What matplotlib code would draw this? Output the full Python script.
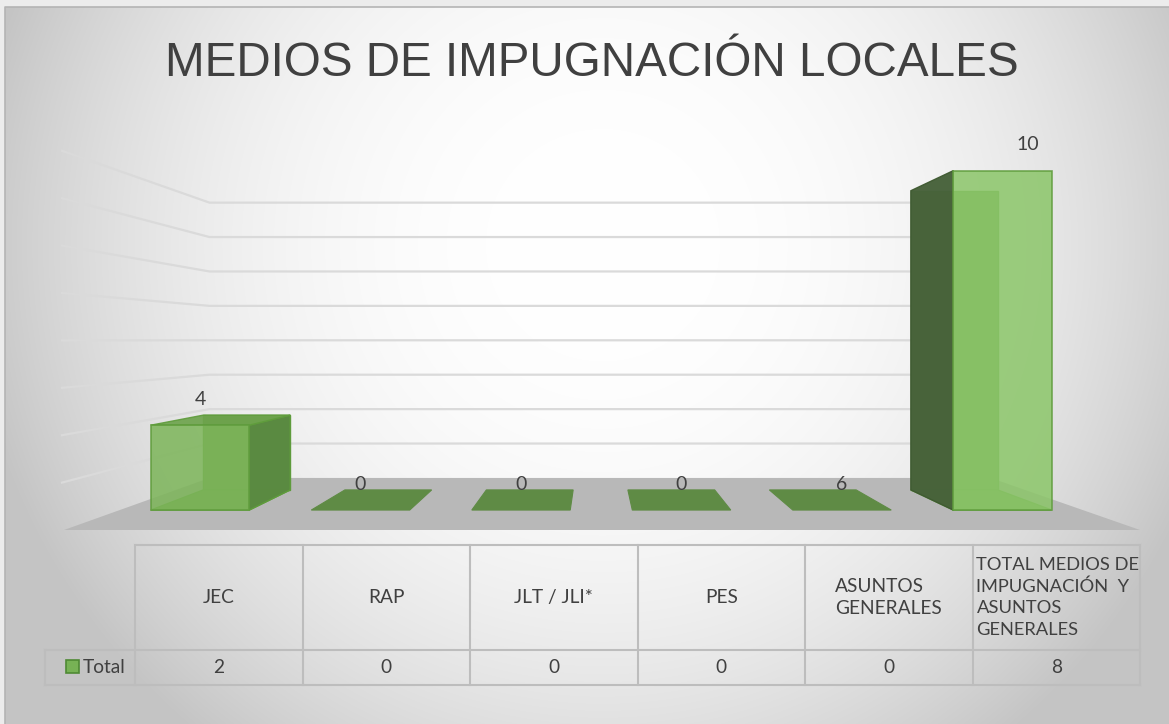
import numpy as np
import matplotlib
matplotlib.use("Agg")
import matplotlib.pyplot as plt
from matplotlib.patches import Polygon, Rectangle

# data
categories = ["JEC", "RAP", "JLT / JLI*", "PES", "ASUNTOS\nGENERALES",
              "TOTAL MEDIOS DE\nIMPUGNACIÓN  Y\nASUNTOS\nGENERALES"]
values = [2, 0, 0, 0, 0, 8]
bar_labels = ["4", "0", "0", "0", "6", "10"]
series_name = "Total"
title = "MEDIOS DE IMPUGNACIÓN LOCALES"

W, H = 1169, 724
TEXT = "#404040"

# perspective set-up (pixel space of the figure)
VX, VY = 595, 340          # vanishing point
FLOOR_Y = 530              # front edge of the floor
UNIT = 47.4                # pixels per unit on the front plane
X0, X1 = 64, 1140          # floor extent on the front plane
F_FRONT, F_BAR0, F_BAR1, F_WALL = 1.0, 0.895, 0.789, 0.726
BAR_W = 110
YMAX = 8


def proj(x, v, f):
    return VX + (x - VX) * f, VY + (FLOOR_Y - v * UNIT - VY) * f


fig = plt.figure(figsize=(W / 100, H / 100), dpi=100)
ax = fig.add_axes([0, 0, 1, 1])
ax.set_xlim(0, W)
ax.set_ylim(H, 0)
ax.axis("off")
fig.patch.set_facecolor("#ececec")

# radial background
yy, xx = np.mgrid[0:H, 0:W]
d2 = ((xx - 600) / 640.0) ** 2 + ((yy - 240) / 640.0) ** 2
shade = 1 - 0.23 * np.clip(d2, 0, 1) ** 1.2
ax.imshow(np.dstack([shade] * 3), extent=(5, W, H, 7), zorder=0, aspect="auto")
ax.plot([5, 5, W], [H, 7, 7], color="#b4b4b4", lw=1.2, zorder=1)

# floor
floor = [proj(X0, 0, F_FRONT), proj(X1, 0, F_FRONT), proj(X1, 0, F_WALL), proj(X0, 0, F_WALL)]
ax.add_patch(Polygon(floor, closed=True, fc="#b8b8b8", ec="none", zorder=2))

# gridlines on side wall and back wall
for v in range(1, YMAX + 1):
    pts = [proj(X0 - 2, v, F_FRONT), proj(X0, v, F_WALL), proj(X1, v, F_WALL)]
    ax.plot([p[0] for p in pts], [p[1] for p in pts], color="#dadada", lw=1.6, zorder=2)

# bars
n = len(categories)
step = (X1 - X0) / n
EDGE = "#5f9c3c"
for i, v in enumerate(values):
    xc = X0 + step * (i + 0.5)
    xl, xr = xc - BAR_W / 2, xc + BAR_W / 2
    top = [proj(xl, v, F_BAR0), proj(xr, v, F_BAR0), proj(xr, v, F_BAR1), proj(xl, v, F_BAR1)]
    if v == 0:
        ax.add_patch(Polygon(top, closed=True, fc="#5f8b45", ec="#5f8b45", lw=0.8, zorder=4))
    else:
        back = [proj(xl, 0, F_BAR1), proj(xr, 0, F_BAR1), proj(xr, v, F_BAR1), proj(xl, v, F_BAR1)]
        bottom = [proj(xl, 0, F_BAR0), proj(xr, 0, F_BAR0), proj(xr, 0, F_BAR1), proj(xl, 0, F_BAR1)]
        front = [proj(xl, 0, F_BAR0), proj(xr, 0, F_BAR0), proj(xr, v, F_BAR0), proj(xl, v, F_BAR0)]
        right = [proj(xr, 0, F_BAR0), proj(xr, v, F_BAR0), proj(xr, v, F_BAR1), proj(xr, 0, F_BAR1)]
        left = [proj(xl, 0, F_BAR0), proj(xl, v, F_BAR0), proj(xl, v, F_BAR1), proj(xl, 0, F_BAR1)]
        ax.add_patch(Polygon(back, closed=True, fc="#6c9f4c", ec=EDGE, lw=1.0, zorder=3))
        ax.add_patch(Polygon(bottom, closed=True, fc="#6c9f4c", ec=EDGE, lw=1.0, zorder=3))
        if xr < VX:
            ax.add_patch(Polygon(right, closed=True, fc="#5a8941", ec=EDGE, lw=1.0, alpha=0.95, zorder=4))
        if xl > VX:
            ax.add_patch(Polygon(left, closed=True, fc="#47613a", ec="#3f5a31", lw=1.0, alpha=0.97, zorder=4))
        if top[0][1] > VY:
            ax.add_patch(Polygon(top, closed=True, fc="#6ea34d", ec=EDGE, lw=1.0, alpha=0.92, zorder=4))
        face = "#7db55a" if xr < VX else "#8cc66a"
        ax.add_patch(Polygon(front, closed=True, fc=face, ec=EDGE, lw=1.2, alpha=0.86, zorder=5))
    fx, fy = proj(xc, v, F_BAR0)
    ax.text(fx + (25 if i == n - 1 else 0), fy - 26, bar_labels[i], ha="center", va="center",
            fontsize=14, color=TEXT, family="Lato", zorder=6)

# title
ax.text(592, 63, title, ha="center", va="center", fontsize=34.3, color=TEXT,
        family="Liberation Sans", zorder=6)

# data table
T_TOP, T_MID, T_BOT = 545, 650, 685
C0, C1 = 135, 1140
LEG_X = 45
cw = (C1 - C0) / n
GRID = "#bdbdbd"
ax.plot([C0, C1], [T_TOP, T_TOP], color=GRID, lw=1.5, zorder=6)
ax.plot([LEG_X, C1], [T_MID, T_MID], color=GRID, lw=1.5, zorder=6)
ax.plot([LEG_X, C1], [T_BOT, T_BOT], color=GRID, lw=1.5, zorder=6)
ax.plot([LEG_X, LEG_X], [T_MID, T_BOT], color=GRID, lw=1.5, zorder=6)
for j in range(n + 1):
    ax.plot([C0 + cw * j] * 2, [T_TOP, T_BOT], color=GRID, lw=1.5, zorder=6)

for j, (cat, val) in enumerate(zip(categories, values)):
    cx = C0 + cw * (j + 0.5)
    if j == n - 1:
        ax.text(C0 + cw * j + 4, (T_TOP + T_MID) / 2, cat, ha="left", va="center",
                fontsize=13.2, color=TEXT, family="Lato", linespacing=1.4, zorder=7)
    else:
        ax.text(cx, (T_TOP + T_MID) / 2, cat, ha="center", va="center", multialignment="left",
                fontsize=13.8, color=TEXT, family="Lato", linespacing=1.4, zorder=7)
    ax.text(cx, (T_MID + T_BOT) / 2, str(val), ha="center", va="center",
            fontsize=13.8, color=TEXT, family="Lato", zorder=7)

ax.add_patch(Rectangle((66, 660), 13, 13, fc="#77b255", ec="#4f8a34", lw=1.2, zorder=7))
ax.text(83, (T_MID + T_BOT) / 2, series_name, ha="left", va="center",
        fontsize=13.8, color=TEXT, family="Lato", zorder=7)

fig.savefig("out.png", dpi=100)
